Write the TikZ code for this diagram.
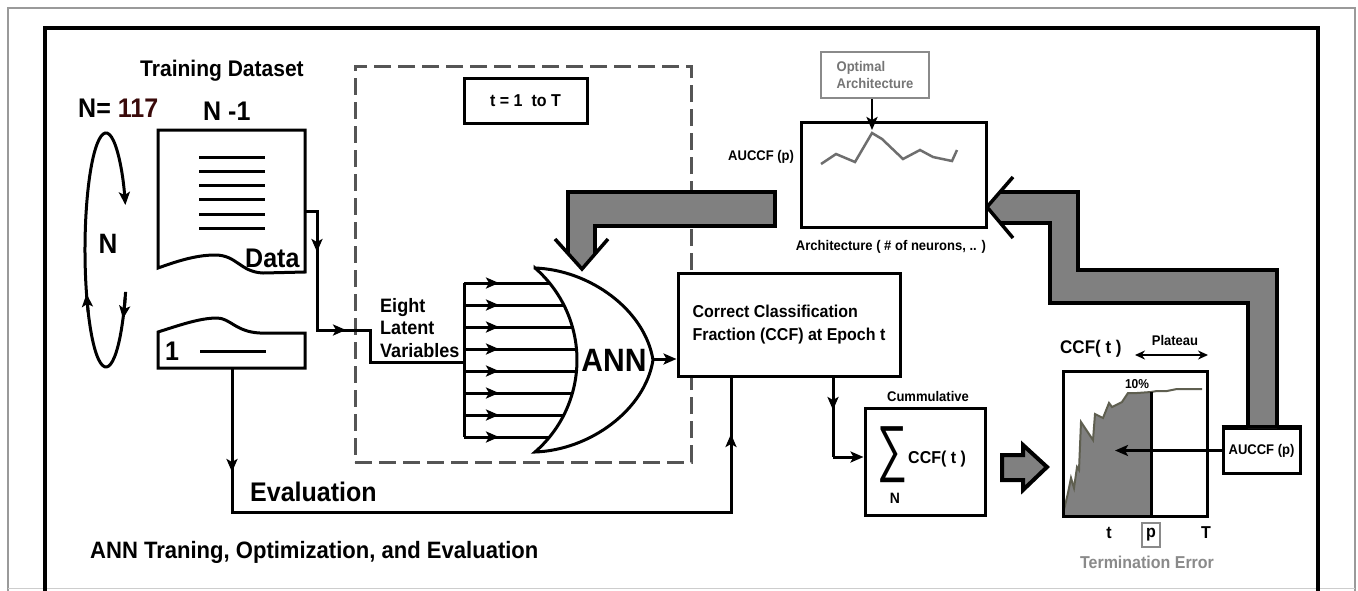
\documentclass[tikz,border=0pt]{standalone}
\usepackage{fontspec}
\usepackage{graphicx}
\setmainfont{Liberation Sans}[FakeStretch=0.93]
\usetikzlibrary{arrows.meta,calc}
\definecolor{pipe}{HTML}{808080}
\definecolor{dashgray}{HTML}{555555}
\definecolor{softgray}{HTML}{8A8A8A}
\definecolor{curvecol}{HTML}{5F5F50}
\definecolor{framegray}{HTML}{9A9A9A}
\definecolor{numred}{HTML}{3A0A0A}
\begin{document}
\begin{tikzpicture}[x=1pt,y=-1pt,line join=miter,
  fs/.style 2 args={font=\fontsize{#1}{#2}\selectfont\bfseries},
  txt/.style={inner sep=0pt},
  ln/.style={line width=3pt},
  tip/.style={-{Stealth[length=13pt,width=11pt,inset=3pt]}},
  arr/.style={ln,tip},
  boxed/.style={draw,ln,fill=white,rectangle,inner sep=0pt},
  pipeline/.style={line width=3.5pt},
]
% page
\fill[white] (0,0) rectangle (1358,590);
\useasboundingbox (0,0) rectangle (1358,590);

% outer frames
\draw[framegray,line width=1.5pt] (8,592) -- (8,8) -- (1355,8) -- (1355,592);
\draw[framegray!50,line width=1pt] (8,588) -- (1355,588);
\draw[line width=4.5pt] (45,592) -- (45,28) -- (1318,28) -- (1318,592);

% epoch loop region
\node[draw=dashgray,line width=3pt,dash pattern=on 17pt off 7pt,
      minimum width=336,minimum height=396,inner sep=0pt] (epochs) at (523,264) {};
\node[boxed,minimum width=123,minimum height=45,fs={17.2}{19}] (tbox) at (525.5,100.5) {t = 1\ \ to T};

% training dataset
\node[txt,fs={22.6}{25},anchor=base] (trainlbl) at (222,76) {Training Dataset};
\node[txt,fs={26.9}{29},anchor=base west] (nlbl) at (78,117) {N= \textcolor{numred}{117}};
\node[txt,fs={26.9}{29},anchor=base west] (nm1) at (203,120) {N -1};

% N-1 document
\draw[ln] (158,130) -- (305,130) -- (305,272) -- (263,273)
  .. controls (240,272) and (237,255) .. (215,255)
  .. controls (195,255) and (175,262) .. (158,268) -- cycle;
\foreach \yy in {157,171,185,199,214,228} \draw[ln] (199,\yy) -- (265,\yy);
\node[txt,fs={26.9}{29},anchor=base west] (datalbl) at (245,267) {Data};

% left-out document
\draw[ln] (158,332) .. controls (180,325) and (200,318) .. (217,318)
  .. controls (230,318) and (236,332) .. (260,333) -- (305,333) -- (305,368) -- (158,368) -- cycle;
\draw[ln] (200,351) -- (266,351);
\node[txt,fs={26.9}{29},anchor=base] (onelbl) at (172,360) {1};

% leave-one-out cycle
\node[txt,fs={28}{30},anchor=base] (nloop) at (108,253) {N};
\draw[ln,tip] (125.6,291.9) arc[start angle=21,end angle=337.4,x radius=21,y radius=117];
\draw[ln,tip] (125.2,297.6) arc[start angle=24,end angle=36,x radius=21,y radius=117];
\draw[ln,tip] (88.2,312) arc[start angle=148,end angle=158,x radius=21,y radius=117];

% feed of the latent variables
\coordinate (dataR) at (305,211);
\coordinate (c1) at (317,211);
\coordinate (c2) at (317,330);
\coordinate (c3) at (370,330);
\coordinate (c4) at (370,362);
\coordinate (bus) at (464,362);
\draw[ln] (dataR) -- (c1) -- (c2) -- (c3) -- (c4) -- (bus);
\draw[arr] (c1) -- (317,252);
\draw[arr] (c2) -- (346,330);
\node[txt,fs={19.4}{21},anchor=base west] (ev1) at (380,312) {Eight};
\node[txt,fs={19.4}{21},anchor=base west] (ev2) at (380,334) {Latent};
\node[txt,fs={19.4}{21},anchor=base west] (ev3) at (380,357) {Variables};

% eight inputs into the network
\draw[ln] (464,283) -- (464,437);
\foreach \k in {0,...,7}{
  \pgfmathsetmacro\yy{283+22*\k}
  \pgfmathsetmacro\xx{455.2+sqrt(14835-(\yy-360)^2)}
  \draw[ln] (464,\yy) -- (\xx,\yy);
  \draw[arr] (464,\yy) -- (499,\yy);
}

% network gate
\draw[ln,fill=white] (535,268) .. controls (590,270) and (645,310) .. (653,360)
  .. controls (645,410) and (590,450) .. (535,452)
  arc[start angle=49.06,end angle=-49.06,radius=121.8] -- cycle;
\node[txt,fs={32.3}{34},anchor=base] (ann) at (614,371) {ANN};
\coordinate (gtip) at (653,359);

% classification fraction
\node[boxed,minimum width=222,minimum height=103,fs={17.2}{23},align=left] (ccf) at (789,324.5)
  {Correct Classification\\Fraction (CCF) at Epoch t};
\draw[arr] (gtip) -- (gtip -| ccf.west);

% evaluation path
\coordinate (testB) at (232,368);
\coordinate (e1) at (232,512);
\coordinate (e2) at (731,512);
\draw[ln] (testB) -- (e1) -- (e2) -- (e2 |- ccf.south);
\draw[arr] (testB) -- (232,472);
\draw[arr] (e2) -- (731,434);
\node[txt,fs={26.9}{29},anchor=base west] (evallbl) at (250,501) {Evaluation};

% feedback to the network
\fill[pipe] (775,192) -- (568,192) -- (568,253.4) -- (582,269) -- (595,254) -- (595,226) -- (775,226) -- cycle;
\draw[pipeline] (568,253.4) -- (568,192) -- (775,192) -- (775,226) -- (595,226) -- (595,254);
\draw[pipeline] (555,239) -- (582,269) -- (608,239);

% cumulative sum
\node[txt,fs={14}{16},anchor=base] (cumlbl) at (928,401) {Cummulative};
\node[boxed,minimum width=120,minimum height=107] (sum) at (925,461.5) {};
\node[txt] (sigma) at (892,455) {\resizebox*{30pt}{56pt}{\mdseries ∑}};
\node[txt,fs={17.2}{19},anchor=base west] (sumccf) at (908,463) {CCF( t )};
\node[txt,fs={15}{17},anchor=base] (sumN) at (895,503) {N};
\coordinate (s1) at (833,457);
\draw[ln] (ccf.south -| s1) -- (s1);
\draw[arr] (s1) -- (sum.west |- s1);
\draw[arr] (ccf.south -| s1) -- (833,410);

% block arrow
\draw[line width=4pt,fill=pipe] (1002,455) -- (1023,455) -- (1023,445) -- (1047,467)
  -- (1023,490) -- (1023,480) -- (1002,480) -- cycle;

% CCF curve over epochs
\fill[pipe] (1063,515) -- (1063,514) -- (1068,493) -- (1071,478) -- (1074,488) -- (1077,467)
  -- (1079,470) -- (1081,422) -- (1093,440) -- (1095,414) -- (1103,418) -- (1109,403)
  -- (1112,407) -- (1122,402) -- (1128,393) -- (1137,393) -- (1151,392) -- (1151,515) -- cycle;
\draw[curvecol,line width=2pt] (1063,514) -- (1068,493) -- (1071,478) -- (1074,488) -- (1077,467)
  -- (1079,470) -- (1081,422) -- (1093,440) -- (1095,414) -- (1103,418) -- (1109,403)
  -- (1112,407) -- (1122,402) -- (1128,393) -- (1137,393) -- (1151,392) -- (1157,391)
  -- (1167,391) -- (1177,389) -- (1187,389) -- (1202,389);
\draw[ln] (1151,392) -- (1151,516);
\node[draw,ln,inner sep=0pt,minimum width=144,minimum height=145] (chart) at (1135,443.5) {};
\node[txt,fs={12.9}{14},anchor=base] (ten) at (1137,388) {10\%};
\node[txt,fs={18.3}{20},anchor=base west] (ccfy) at (1060,353) {CCF( t )};
\node[txt,fs={14}{16},anchor=base] (plat) at (1175,345) {Plateau};
\coordinate (platL) at (1135,355);
\coordinate (platR) at (1208,355);
\draw[line width=2.5pt,{Stealth[length=10pt,width=9pt]}-{Stealth[length=10pt,width=9pt]}] (platL) -- (platR);
\node[txt,fs={17.2}{19},anchor=base] (tl) at (1109,538) {t};
\node[draw=softgray,line width=2pt,minimum width=18,minimum height=24,inner sep=0pt,fs={17.2}{19}] (pbox) at (1151,535) {p};
\node[txt,fs={17.2}{19},anchor=base] (Tl) at (1206,538) {T};
\node[txt,fs={17.2}{19},anchor=base,text=softgray] (term) at (1147,568) {Termination Error};

% area under the curve
\node[boxed,minimum width=77,minimum height=45,fs={14}{16}] (auc) at (1261.5,450.5) {AUCCF (p)};
\coordinate (dot) at (1115,450.5);
\draw[arr] (auc.west) -- (dot);

% feedback to the architecture search
\fill[pipe] (1000,192) -- (1078,192) -- (1078,270) -- (1277,270) -- (1277,428) -- (1248,428)
  -- (1248,303) -- (1050,303) -- (1050,223) -- (1000,223) -- (987,207) -- cycle;
\draw[pipeline] (1000,192) -- (1078,192) -- (1078,270) -- (1277,270) -- (1277,428);
\draw[pipeline] (1248,428) -- (1248,303) -- (1050,303) -- (1050,223) -- (1000,223);
\draw[pipeline] (1013,177) -- (987,207) -- (1013,238);
\draw[ln] (auc.north west) -- (auc.north east);

% architecture search
\node[boxed,minimum width=185,minimum height=105] (arch) at (893.5,174.5) {};
\draw[softgray!80!black,line width=2.5pt] (821,164) -- (836,154) -- (855,162) -- (872,133)
  -- (882,139) -- (903,159) -- (920,150) -- (933,157) -- (952,161) -- (957,150);
\node[txt,fs={14}{16},anchor=base west] (auclbl) at (728,160) {AUCCF (p)};
\node[txt,fs={14}{16},anchor=base] (archlbl) at (891,250) {Architecture ( \# of neurons, .. )};
\node[draw=softgray,line width=2.5pt,fill=white,minimum width=108,minimum height=46,inner sep=0pt,
      text=softgray!85!black,fs={14}{17},align=left] (opt) at (875,75) {Optimal\\Architecture};
\coordinate (peak) at (872,130);
\draw[arr,line width=2.5pt] (opt.south -| peak) -- (peak);

% caption
\node[txt,fs={23.7}{26},anchor=base west] (caption) at (90,558) {ANN Traning, Optimization, and Evaluation};
\end{tikzpicture}
\end{document}
